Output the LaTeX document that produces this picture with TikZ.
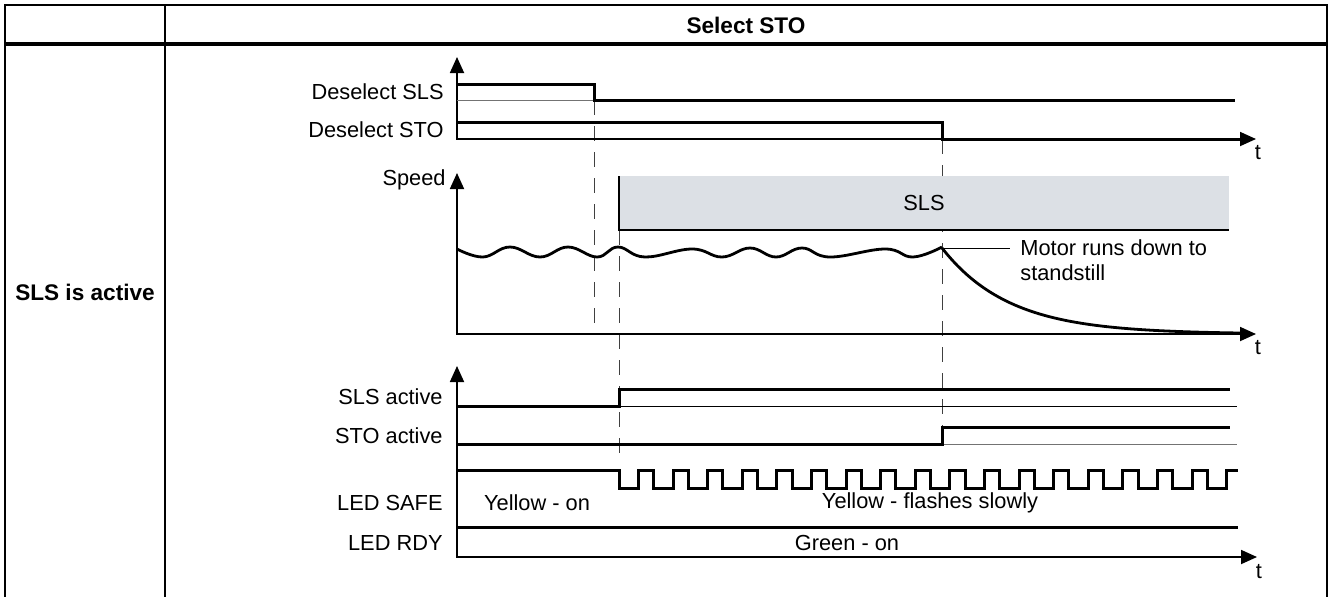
\documentclass[tikz,border=0pt]{standalone}
\usepackage{fontspec}
\setmainfont{Liberation Sans}
\usetikzlibrary{arrows.meta}
\definecolor{slsfill}{RGB}{220,224,229}

\begin{document}
\begin{tikzpicture}[x=0.5pt,y=-0.5pt,
    font=\fontsize{10.9}{12.5}\selectfont,
    sig/.style={line width=1.5pt},
    ref/.style={line width=0.5pt,black!55},
    guide/.style={line width=0.5pt,black!75,dash pattern=on 7.5pt off 5.5pt},
    axis/.style={line width=0.9pt,{Triangle[length=8pt,width=7pt]}-{Triangle[length=8pt,width=7pt]}},
    lbl/.style={anchor=east,inner sep=0pt}]
    \useasboundingbox (0,0) rectangle (1332,596);

    % Table frame
    \draw[line width=0.7pt] (5,600) -- (5,5) -- (1327,5) -- (1327,600);
    \draw[line width=0.7pt] (165,5) -- (165,600);
    \draw[line width=2pt] (5,44) -- (1327,44);
    \node[font=\fontsize{11.3}{12.5}\selectfont\bfseries] (title) at (746,25) {Select STO};
    \node[font=\fontsize{11.3}{12.5}\selectfont\bfseries] (case) at (85,292) {SLS is active};

    % Guide lines
    \draw[guide] (594,100) -- (594,334);
    \draw[guide] (619,230) -- (619,457);
    \draw[guide] (942,139) -- (942,449);

    % Deselect SLS / STO
    \draw[axis] (457,57) -- (457,139) -- (1256,139);
    \node (t1) at (1258,153) {t};
    \node[lbl] (dsls) at (444,92) {Deselect SLS};
    \node[lbl] (dsto) at (444,130) {Deselect STO};
    \draw[ref] (457,100) -- (594,100);
    \draw[sig] (457,84) -- (594,84) -- (594,100) -- (1235,100);
    \draw[sig] (457,122) -- (942,122) -- (942,139) -- (1240,139);

    % Speed
    \fill[slsfill] (619,176) rectangle (1229,230);
    \draw[line width=0.8pt] (619,176) -- (619,230) -- (1229,230);
    \node (slsbox) at (924,203) {SLS};
    \draw[axis] (457,173) -- (457,334) -- (1256,334);
    \node (t2) at (1258,348) {t};
    \node[lbl] (speed) at (446,180) {Speed};
    \draw[line width=1.4pt] plot[smooth,tension=0.7] coordinates {(457,249) (483,257) (510,247) (540,257)
        (568,247) (597,257) (618,247) (645,257) (692,249) (722,257) (750,248) (776,257) (802,248)
        (830,257) (885,249) (913,257) (942,247)};
    \coordinate (waveend) at (942,248);
    \draw[line width=1.4pt] plot[domain=942:1245,samples=60] (\x,{334-86*exp(-(\x-942)/67)});
    \node[anchor=west,align=left,inner xsep=5pt,inner ysep=0pt] (motor) at (1010,260) {Motor runs down to\\standstill};
    \draw[line width=0.5pt] (waveend) -- (waveend -| motor.west);

    % Status signals
    \draw[axis] (457,366) -- (457,557) -- (1257,557);
    \node (t3) at (1259,572) {t};
    \node[lbl] (slsact) at (443,397) {SLS active};
    \node[lbl] (stoact) at (443,436) {STO active};
    \node[lbl] (ledsafe) at (443,503) {LED SAFE};
    \node[lbl] (ledrdy) at (443,543) {LED RDY};
    \draw[line width=0.5pt] (619,406) -- (1237,406);
    \draw[sig] (457,406) -- (619,406) -- (619,389) -- (1230,389);
    \draw[ref] (942,444) -- (1237,444);
    \draw[sig] (457,444) -- (942,444) -- (942,427) -- (1230,427);
    % LED SAFE flashing
    \draw[sig] (457,470) -- (619,470)
        \foreach \k in {1,...,17} { -- ++(0,18) -- ++(19.5,0) -- ++(0,-18) -- ++(15.1,0) }
        -- ++(0,18) -- ++(19.5,0) -- ++(0,-18) -- (1238,470);
    \node (yon) at (537,503) {Yellow - on};
    \node (yflash) at (930,503) {Yellow - flashes slowly};
    \draw[sig] (457,527) -- (1238,527);
    \node (gon) at (847,543) {Green - on};
\end{tikzpicture}
\end{document}
